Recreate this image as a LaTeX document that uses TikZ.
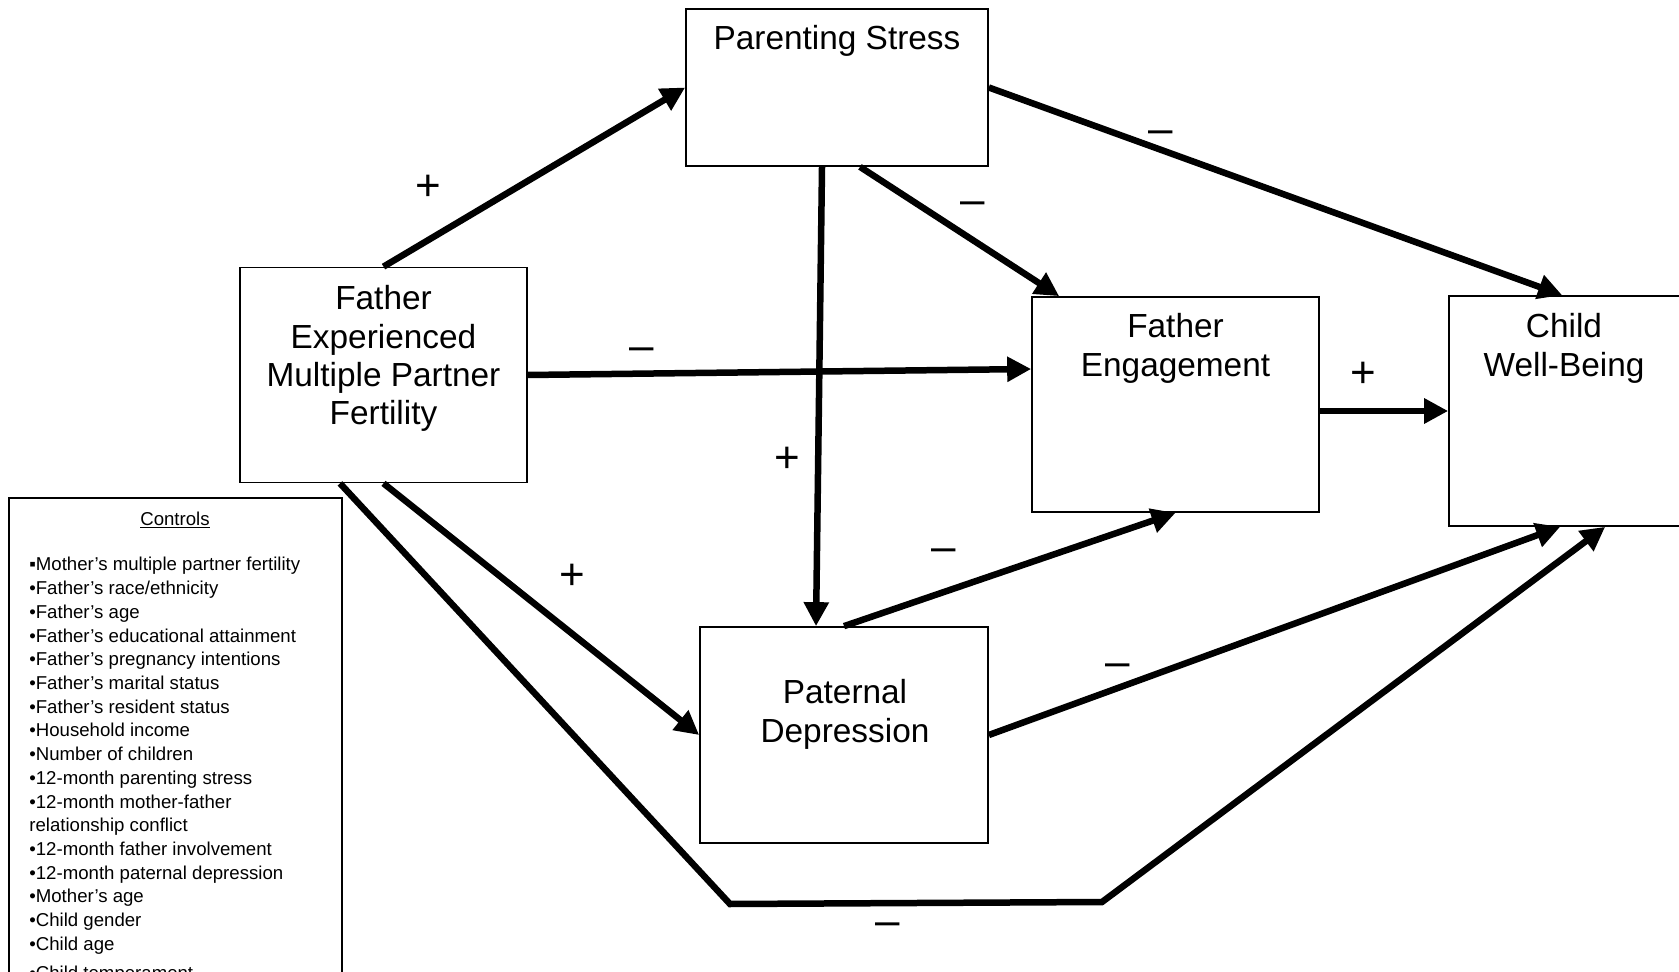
\documentclass[tikz,border=0pt]{standalone}
\usepackage{fontspec}
\setmainfont{Liberation Sans}
\usetikzlibrary{arrows.meta}
\tikzset{
  varbox/.style={draw, line width=1pt, inner sep=0pt},
  vartext/.style={anchor=north, align=center, inner sep=0pt,
    font=\fontsize{19}{21.9}\selectfont},
  effect/.style={line width=0.13cm, -{Triangle[length=0.48cm,width=0.48cm]}},
  sign/.style={inner sep=0pt, font=\fontsize{25}{30}\selectfont},
  possign/.style={sign, yshift=-0.04cm},
  negsign/.style={sign, yshift=-0.13cm},
}
\begin{document}
\begin{tikzpicture}[x=0.02cm,y=-0.02cm]
  \useasboundingbox (0,0) rectangle (1679,972);
  \clip (0,0) rectangle (1679,972);

  % boxes
  \node[varbox, minimum width=6.04cm, minimum height=3.14cm] (ps) at (837,87.5) {};
  \node[varbox, minimum width=5.74cm, minimum height=4.3cm] (mpf) at (383.5,375) {};
  \node[varbox, minimum width=5.74cm, minimum height=4.3cm] (fe) at (1175.5,404.5) {};
  \node[varbox, minimum width=5.74cm, minimum height=4.6cm] (cwb) at (1592.5,411) {};
  \node[varbox, minimum width=5.76cm, minimum height=4.32cm] (pd) at (844,735) {};
  \node[varbox, minimum width=6.66cm, minimum height=10.24cm] (ctrl) at (175.5,754) {};

  % box texts
  \node[vartext] (pstext) at (837,25) {Parenting Stress};
  \node[vartext] (mpftext) at (383.5,285) {Father\\Experienced\\Multiple Partner\\Fertility};
  \node[vartext] (fetext) at (1175.5,313) {Father\\Engagement};
  \node[vartext] (cwbtext) at (1564,313) {Child\\Well-Being};
  \node[vartext] (pdtext) at (845,679) {Paternal\\Depression};

  % controls
  \node[anchor=base, inner sep=0pt, font=\fontsize{10.6}{13.5}\selectfont] (ctrlhead) at (175,525) {\underline{Controls}};
  \node[anchor=north west, align=left, inner sep=0pt,
    font=\fontsize{10.6}{13.5}\selectfont] (ctrllist) at (29,557) {%
    ▪Mother’s multiple partner fertility\\
    •Father’s race/ethnicity\\
    •Father’s age\\
    •Father’s educational attainment\\
    •Father’s pregnancy intentions\\
    •Father’s marital status\\
    •Father’s resident status\\
    •Household income\\
    •Number of children\\
    •12-month parenting stress\\
    •12-month mother-father\\
    relationship conflict\\
    •12-month father involvement\\
    •12-month paternal depression\\
    •Mother’s age\\
    •Child gender\\
    •Child age\\[3pt]
    •Child temperament};

  % paths
  \draw[effect] (mpf.north) -- (ps.west);
  \draw[effect] (mpf.east) -- ([yshift=0.71cm]fe.west);
  \draw[effect] ([xshift=-0.3cm]ps.south) -- ([xshift=-0.56cm]pd.north);
  \draw[effect] ([xshift=0.46cm]ps.south) -- ([xshift=0.56cm]fe.north west);
  \draw[effect] (ps.east) -- ([xshift=2.28cm]cwb.north west);
  \draw[effect] (fe.east |- cwb.west) -- (cwb.west);
  \draw[effect] (mpf.south) -- (pd.west);
  \coordinate (bendl) at (730,904);
  \coordinate (bendr) at (1102,902);
  \draw[effect] ([xshift=-0.87cm]mpf.south) -- (bendl) -- (bendr)
    -- ([xshift=3.14cm]cwb.south west);
  \draw[effect] (pd.north) -- (fe.south);
  \draw[effect] (pd.east) -- ([xshift=2.24cm]cwb.south west);

  % signs
  \node[possign] (sa) at (428,186) {+};
  \node[possign] (sb) at (787,458) {+};
  \node[possign] (sc) at (572,575) {+};
  \node[possign] (sd) at (1363,373) {+};
  \node[negsign] (se) at (642,348) {–};
  \node[negsign] (sf) at (973,202) {–};
  \node[negsign] (sg) at (1161,131) {–};
  \node[negsign] (sh) at (944,549) {–};
  \node[negsign] (si) at (1118,664) {–};
  \node[negsign] (sj) at (888,923) {–};
\end{tikzpicture}
\end{document}
